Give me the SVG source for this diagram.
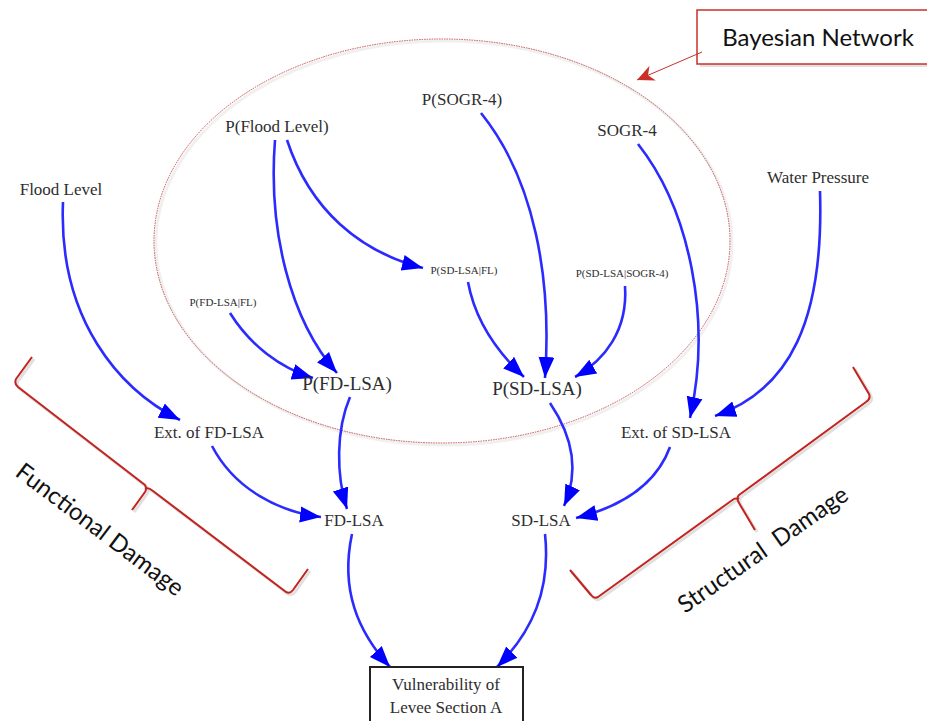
<svg xmlns="http://www.w3.org/2000/svg" width="927" height="721" viewBox="0 0 927 721">
  <style>
    .node { font-family: "Liberation Serif", "Times New Roman", serif; fill: #2e2e2e; text-anchor: middle; }
    .n17 { font-size: 17px; }
    .n19 { font-size: 19px; }
    .n11 { font-size: 11px; }
    .edge { fill: none; stroke: #2b2bff; stroke-width: 2.6; marker-end: url(#arrow); }
    .bracket { fill: none; stroke: #c3231f; stroke-width: 2; stroke-linejoin: round; }
    .shadow { fill: none; stroke: #000; stroke-opacity: 0.12; stroke-width: 3; }
    .callout { font-family: "Lato", "Open Sans", sans-serif; fill: #111; }
  </style>
  <defs>
    <marker id="arrow" markerUnits="userSpaceOnUse" markerWidth="22" markerHeight="18" refX="21" refY="9" orient="auto">
      <path d="M0,1 L21,9 L0,17 z" fill="#0000ff"/>
    </marker>
    <marker id="redArrow" markerUnits="userSpaceOnUse" markerWidth="18" markerHeight="16" refX="17" refY="8" orient="auto">
      <path d="M0,0 L17,8 L0,16 L5,8 z" fill="#c9302c"/>
    </marker>
  </defs>

  <rect width="927" height="721" fill="#ffffff"/>

  <!-- Bayesian network boundary -->
  <ellipse cx="442" cy="241" rx="288" ry="202" fill="none" stroke="#000" stroke-opacity="0.06" stroke-width="3" transform="translate(2,2)"/>
  <ellipse cx="442" cy="241" rx="288" ry="202" fill="none" stroke="#c8504a" stroke-width="1" stroke-dasharray="1.5 1"/>

  <!-- callout box -->
  <g id="callout">
    <rect x="700" y="13" width="230" height="54" fill="#000" fill-opacity="0.12"/>
    <rect x="697" y="10" width="232" height="54" fill="#ffffff" stroke="#c9302c" stroke-width="1.5"/>
    <text class="callout" x="818" y="46" font-size="24" text-anchor="middle">Bayesian Network</text>
    <path d="M702,52 L637,80" fill="none" stroke="#c9302c" stroke-width="1" marker-end="url(#redArrow)"/>
  </g>

  <!-- connectors -->
  <g id="connectors">
    <path class="edge" d="M275,140 C268,230 290,320 337,373"/>
    <path class="edge" d="M287,140 C310,210 360,252 423,268"/>
    <path class="edge" d="M230,313 C250,345 280,368 313,378"/>
    <path class="edge" d="M468,282 C475,320 495,350 524,377"/>
    <path class="edge" d="M481,113 C535,180 552,280 545,378"/>
    <path class="edge" d="M625,286 C628,330 605,360 575,377"/>
    <path class="edge" d="M638,144 C690,210 712,320 690,418"/>
    <path class="edge" d="M820,191 C824,320 790,390 715,416"/>
    <path class="edge" d="M63,202 C58,320 120,390 180,420"/>
    <path class="edge" d="M350,397 C336,430 336,475 347,509"/>
    <path class="edge" d="M212,446 C235,490 280,512 321,517"/>
    <path class="edge" d="M550,403 C575,440 578,475 564,506"/>
    <path class="edge" d="M670,447 C656,485 620,507 576,518"/>
    <path class="edge" d="M352,534 C340,590 358,632 390,667"/>
    <path class="edge" d="M545,534 C551,590 532,632 497,667"/>
  </g>

  <!-- nodes -->
  <g id="p-flood-level"><text class="node n17" x="277" y="132">P(Flood Level)</text></g>
  <g id="p-sogr4"><text class="node n17" x="462" y="105">P(SOGR-4)</text></g>
  <g id="sogr4"><text class="node n17" x="627" y="136">SOGR-4</text></g>
  <g id="flood-level"><text class="node n17" x="61" y="195">Flood Level</text></g>
  <g id="water-pressure"><text class="node n17" x="818" y="183">Water Pressure</text></g>
  <g id="p-sdlsa-fl"><text class="node n11" x="464" y="274">P(SD-LSA|FL)</text></g>
  <g id="p-sdlsa-sogr4"><text class="node n11" x="622" y="277">P(SD-LSA|SOGR-4)</text></g>
  <g id="p-fdlsa-fl"><text class="node n11" x="223" y="306">P(FD-LSA|FL)</text></g>
  <g id="p-fdlsa"><text class="node n19" x="347" y="390">P(FD-LSA)</text></g>
  <g id="p-sdlsa"><text class="node n19" x="537" y="395">P(SD-LSA)</text></g>
  <g id="ext-fdlsa"><text class="node n17" x="209" y="438">Ext. of FD-LSA</text></g>
  <g id="ext-sdlsa"><text class="node n17" x="676" y="438">Ext. of SD-LSA</text></g>
  <g id="fdlsa"><text class="node n17" x="354" y="526">FD-LSA</text></g>
  <g id="sdlsa"><text class="node n17" x="541" y="526">SD-LSA</text></g>
  <g id="vulnerability">
    <rect x="370" y="667" width="153" height="60" fill="#ffffff" stroke="#222" stroke-width="2"/>
    <text class="node n17" x="446" y="690">Vulnerability of</text>
    <text class="node n17" x="446" y="713">Levee Section A</text>
  </g>

  <!-- damage groupings -->
  <g id="functional-damage">
    <path class="shadow" d="M34,359 L18,381 Q16,386 20,389 L147,487 Q149,491 147,494 L134,512 M147,491 Q150,489 155,493 L288,594 Q292,596 295,592 L310,571"/>
    <path class="bracket" d="M32,357 L16,379 Q14,384 18,387 L145,485 Q147,489 145,492 L132,510 M145,489 Q148,487 153,491 L286,592 Q290,594 293,590 L308,569"/>
    <text class="callout" font-size="24" transform="translate(14,475) rotate(37)">Functional Damage</text>
  </g>
  <g id="structural-damage">
    <path class="shadow" d="M855,369 L871,396 Q873,401 868,404 L741,497 Q738,500 741,505 L757,532 M741,501 Q738,499 733,503 L600,599 Q596,601 593,597 L572,572"/>
    <path class="bracket" d="M853,367 L869,394 Q871,399 866,402 L739,495 Q736,498 739,503 L755,530 M739,499 Q736,497 731,501 L598,597 Q594,599 591,595 L570,570"/>
    <text class="callout" font-size="24" transform="translate(685,614) rotate(-35)" xml:space="preserve">Structural  Damage</text>
  </g>
</svg>
